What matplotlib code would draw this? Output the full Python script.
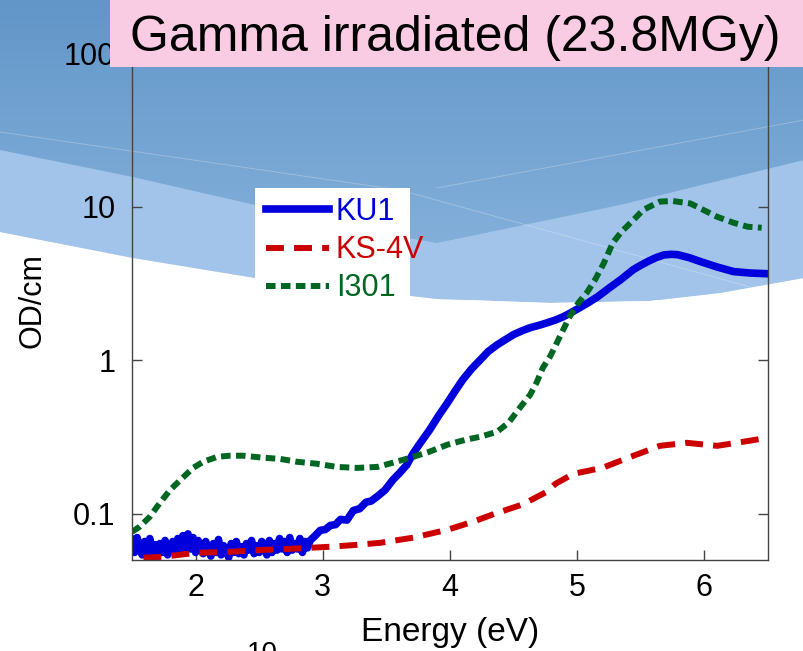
import numpy as np
import matplotlib
matplotlib.use("Agg")
import matplotlib.pyplot as plt
from matplotlib.patches import Rectangle, Polygon

plt.rcParams['font.family'] = ['Liberation Sans', 'DejaVu Sans']

# ---- data (energy in eV, OD/cm) ----
ku1_e = [1.50, 1.52, 1.54, 1.56, 1.58, 1.60, 1.62, 1.64, 1.66, 1.68,
         1.70, 1.72, 1.74, 1.76, 1.78, 1.80, 1.82, 1.84, 1.86, 1.88,
         1.90, 1.92, 1.94, 1.96, 1.98, 2.00, 2.02, 2.04, 2.06, 2.08,
         2.10, 2.12, 2.14, 2.16, 2.18, 2.20, 2.22, 2.24, 2.26, 2.28,
         2.30, 2.32, 2.34, 2.36, 2.38, 2.40, 2.42, 2.44, 2.46, 2.48,
         2.50, 2.52, 2.54, 2.56, 2.58, 2.60, 2.62, 2.64, 2.66, 2.68,
         2.70, 2.72, 2.74, 2.76, 2.78, 2.80, 2.82, 2.84, 2.86, 2.88, 2.90,
         2.94, 2.98, 3.02, 3.06, 3.10, 3.14, 3.19, 3.24, 3.29, 3.34, 3.38, 3.43,
         3.49, 3.55, 3.60, 3.66, 3.71, 3.76, 3.84, 3.91, 3.98, 4.04, 4.10,
         4.17, 4.24, 4.30, 4.37, 4.44, 4.50, 4.57, 4.63, 4.70, 4.76, 4.83, 4.89,
         4.95, 5.02, 5.09, 5.16, 5.25, 5.34, 5.44, 5.50, 5.56, 5.62, 5.68,
         5.74, 5.79, 5.88, 5.97, 6.10, 6.23, 6.36, 6.50]
ku1_v = [0.068, 0.056, 0.070, 0.059, 0.054, 0.066, 0.057, 0.069, 0.055, 0.063,
         0.053, 0.064, 0.056, 0.067, 0.054, 0.061, 0.066, 0.055, 0.069, 0.058,
         0.072, 0.060, 0.074, 0.059, 0.070, 0.056, 0.067, 0.061, 0.055, 0.066,
         0.058, 0.053, 0.064, 0.056, 0.068, 0.054, 0.062, 0.058, 0.052, 0.064,
         0.056, 0.066, 0.055, 0.061, 0.054, 0.064, 0.058, 0.067, 0.055, 0.062,
         0.056, 0.066, 0.060, 0.054, 0.067, 0.056, 0.064, 0.058, 0.069, 0.059,
         0.066, 0.056, 0.070, 0.058, 0.064, 0.059, 0.069, 0.056, 0.066, 0.060, 0.067,
         0.072, 0.078, 0.079, 0.084, 0.085, 0.092, 0.091, 0.105, 0.108, 0.119, 0.121, 0.130,
         0.143, 0.166, 0.183, 0.208, 0.247, 0.284, 0.352, 0.435, 0.528, 0.630, 0.746,
         0.880, 1.01, 1.14, 1.26, 1.37, 1.47, 1.56, 1.63, 1.69, 1.75, 1.83, 1.92,
         2.04, 2.20, 2.38, 2.59, 2.95, 3.34, 3.89, 4.16, 4.42, 4.66, 4.85,
         4.90, 4.87, 4.66, 4.39, 4.05, 3.78, 3.70, 3.66]

ks4v_e = [1.59, 1.74, 2.01, 2.27, 2.53, 2.74, 3.06, 3.27, 3.45, 3.71, 3.98, 4.18,
          4.35, 4.57, 4.76, 4.83, 4.97, 5.20, 5.42, 5.65, 5.86, 6.10, 6.30, 6.50]
ks4v_v = [0.0517, 0.0525, 0.0557, 0.0565, 0.0582, 0.0591, 0.0610, 0.0628, 0.0647, 0.0699,
          0.0787, 0.0887, 0.100, 0.115, 0.139, 0.157, 0.182, 0.1995, 0.235, 0.277,
          0.290, 0.277, 0.294, 0.313]

i301_e = [1.50, 1.56, 1.64, 1.72, 1.80, 1.88, 1.98, 2.06, 2.17, 2.27, 2.37, 2.53,
          2.66, 2.80, 2.95, 3.11, 3.27, 3.43, 3.55, 3.69, 3.84, 3.98, 4.12, 4.24,
          4.37, 4.46, 4.55, 4.63, 4.68, 4.73, 4.79, 4.84, 4.89, 4.94, 5.01, 5.08,
          5.14, 5.21, 5.28, 5.35, 5.42, 5.52, 5.65, 5.75, 5.89, 5.99, 6.10, 6.23, 6.34, 6.45]
i301_v = [0.0763, 0.0823, 0.0956, 0.118, 0.143, 0.166, 0.199, 0.218, 0.235, 0.239, 0.239, 0.232,
          0.228, 0.218, 0.212, 0.202, 0.199, 0.202, 0.215, 0.232, 0.254, 0.282, 0.303, 0.318,
          0.342, 0.392, 0.491, 0.596, 0.713, 0.893, 1.07, 1.30, 1.58, 1.92, 2.37, 2.79,
          3.34, 4.30, 5.82, 6.90, 7.86, 9.55, 10.8, 10.9, 10.5, 9.55, 8.60, 7.86, 7.41, 7.30]

fig = plt.figure(figsize=(8.04, 6.51), dpi=100)
fig.patch.set_facecolor('white')

# ---- slide background (pixel coordinates) ----
bg = fig.add_axes([0, 0, 1, 1], zorder=-5)
bg.set_xlim(0, 804)
bg.set_ylim(651, 0)
bg.axis('off')
top = np.array([98, 150, 200]) / 255
bot = np.array([138, 181, 222]) / 255
t = np.linspace(0, 1, 256)[:, None]
grad = top[None, None, :] * (1 - t[:, :, None]) + bot[None, None, :] * t[:, :, None]
grad = np.repeat(grad, 2, axis=1)
bg.imshow(grad, extent=[0, 804, 300, 0], aspect='auto', zorder=0)
band_top = [(0, 150), (133, 177), (255, 205), (350, 228), (437, 243), (620, 205), (804, 160)]
band_bot = [(804, 278), (720, 293), (650, 301), (550, 303), (437, 299), (255, 278),
            (133, 258), (0, 232)]
bg.add_patch(Polygon(band_top + band_bot, closed=True, fc='#a2c4eb', ec='none', zorder=1))
white = [(0, 232), (133, 258), (255, 278), (437, 299), (550, 303), (650, 301),
         (720, 293), (804, 278), (804, 651), (0, 651)]
bg.add_patch(Polygon(white, closed=True, fc='white', ec='none', zorder=2))
for xs, ys in [([0, 400, 750], [132, 190, 287]), ([437, 804], [188, 120])]:
    bg.plot(xs, ys, color='white', lw=0.7, alpha=0.25, zorder=1.5)
# white box behind the legend
bg.add_patch(Rectangle((255, 188), 155, 112, fc='white', ec='none', zorder=3))

# ---- main axes ----
ax = fig.add_axes([132 / 804, 1 - 560 / 651, 636 / 804, 553 / 651])
ax.patch.set_alpha(0)
ax.set_yscale('log')
ax.set_xlim(1.5, 6.5)
ax.set_ylim(0.05, 200)

l1, = ax.plot(ku1_e, ku1_v, color='#0000dd', lw=5.5, label='KU1')
l2, = ax.plot(ks4v_e, ks4v_v, color='#cc0000', lw=4.3, dashes=(3, 1.7), label='KS-4V')
l3, = ax.plot(i301_e, i301_v, color='#006622', lw=4.3, dashes=(1.6, 0.9), label='I301')

ax.set_xticks([2, 3, 4, 5, 6])
ax.set_yticks([0.1, 1, 10, 100])
ax.set_yticklabels(['0.1', '1', '10', '100'])
ax.yaxis.set_minor_locator(matplotlib.ticker.NullLocator())
ax.tick_params(axis='both', direction='in', length=7, width=1, color='#444444',
               labelsize=22, right=True)
ax.tick_params(axis='x', pad=9)
ax.tick_params(axis='y', pad=12)
for s in ax.spines.values():
    s.set_color('#444444')
    s.set_linewidth(1)

ax.set_xlabel('Energy (eV)', fontsize=24)
ax.set_ylabel('OD/cm', fontsize=22)
ax.xaxis.set_label_coords(0.5, -0.103)
ax.yaxis.set_label_coords(-0.133, 0.47)

leg = ax.legend(handles=[l1, l2, l3], loc='upper left',
                bbox_to_anchor=(266 / 804, 1 - 197 / 651), bbox_transform=fig.transFigure,
                fontsize=22, frameon=False, handlelength=2.05,
                handletextpad=0.23, labelspacing=0.27, borderpad=0, borderaxespad=0)
for txt, c in zip(leg.get_texts(), ['#0000dd', '#cc0000', '#006622']):
    txt.set_color(c)

# ---- title box ----
fig.patches.append(Rectangle((110 / 804, 1 - 67 / 651), 700 / 804, 67 / 651,
                             transform=fig.transFigure, fc='#f9cce3', ec='none', zorder=5))
fig.text(130 / 804, 1 - 51 / 651, 'Gamma irradiated (23.8MGy)', fontsize=36,
         va='baseline', ha='left', zorder=6)

fig.text(247 / 804, 1 - 641 / 651, '10', fontsize=20, va='top', ha='left')

fig.savefig('out.png', dpi=100)
